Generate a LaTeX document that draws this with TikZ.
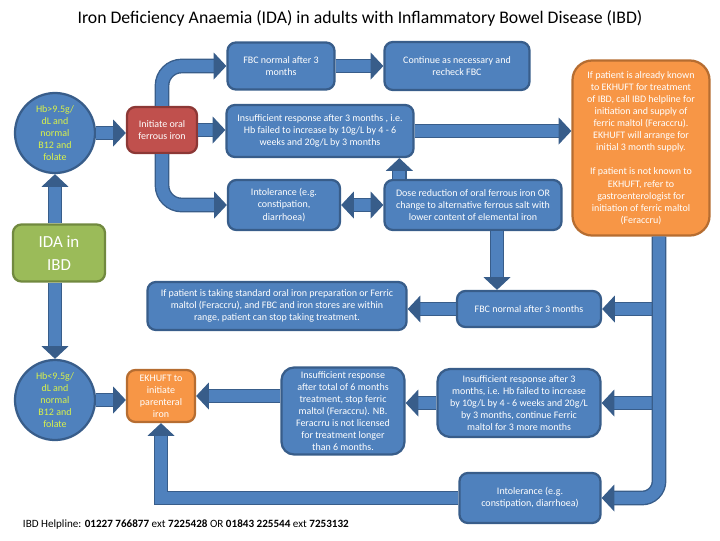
\documentclass[tikz,border=0pt]{standalone}
\usepackage{fontspec}
\setmainfont{Carlito}
\usepackage{xcolor}
\usetikzlibrary{arrows.meta,calc}
\definecolor{BoxBlue}{HTML}{4F81BD}
\definecolor{EdgeBlue}{HTML}{385D8A}
\definecolor{BoxRed}{HTML}{C0504D}
\definecolor{EdgeRed}{HTML}{8C3836}
\definecolor{BoxOrange}{HTML}{F79646}
\definecolor{EdgeOrange}{HTML}{B66D31}
\definecolor{BoxGreen}{HTML}{9BBB59}
\definecolor{EdgeGreen}{HTML}{71893F}
\definecolor{TextLime}{HTML}{D9F24A}

\begin{document}
\begin{tikzpicture}[
	x=0.025cm, y=-0.025cm,
	% box styles
	blue box/.style={
		rectangle,
		rounded corners=6pt,
		draw=EdgeBlue,
		fill=BoxBlue,
		text=white,
		line width=1.6pt,
		font=\fontsize{7.1}{8.6}\selectfont,
		align=center,
		inner sep=1pt
	},
	red box/.style={blue box, draw=EdgeRed, fill=BoxRed},
	orange box/.style={blue box, draw=EdgeOrange, fill=BoxOrange},
	green box/.style={blue box, draw=EdgeGreen, fill=BoxGreen,
		font=\fontsize{12}{16}\selectfont},
	hb node/.style={
		circle,
		draw=EdgeBlue,
		fill=BoxBlue,
		text=TextLime,
		line width=1.6pt,
		minimum size=2cm,
		inner sep=0pt,
		font=\fontsize{7.1}{8.6}\selectfont,
		align=center
	},
	% thick block arrows
	pipe/.style={
		draw=EdgeBlue,
		line width=1pt,
		double=BoxBlue,
		double distance=8.5pt,
		-{Triangle[width=19pt,length=9pt]}
	},
	pipe both/.style={pipe, {Triangle[width=19pt,length=9pt]}-{Triangle[width=19pt,length=9pt]}}
	]
	
	\useasboundingbox (0,0) rectangle (720,540);
	
	% ================= TITLE =================
	\node[font=\fontsize{12.6}{15}\selectfont] (title) at (360,18)
		{Iron Deficiency Anaemia (IDA) in adults with Inflammatory Bowel Disease (IBD)};
	
	% ================= NODES =================
	\node[hb node] (hbA) at (55,133) {Hb>9.5g/\\dL and\\normal\\B12 and\\folate};
	\node[green box, minimum width=2.3cm, minimum height=1.425cm] (ida) at (59,253) {IDA in\\IBD};
	\node[hb node] (hbB) at (55,400) {Hb<9.5g/\\dL and\\normal\\B12 and\\folate};
	
	\node[red box, minimum width=1.75cm, minimum height=1.15cm] (oral) at (162,130) {Initiate oral\\ferrous iron};
	
	\node[blue box, minimum width=2.675cm, minimum height=1.175cm] (fbc1) at (281,66) {FBC normal after 3\\months};
	\node[blue box, minimum width=3.625cm, minimum height=1.2cm] (cont) at (457,66) {Continue as necessary and\\recheck FBC};
	\node[blue box, minimum width=4.675cm, minimum height=1.3cm] (insuf1) at (320,131)
		{Insufficient response after 3 months , i.e.\\Hb failed to increase by 10g/L by 4 - 6\\weeks and 20g/L by 3 months};
	\node[blue box, minimum width=2.8cm, minimum height=1.25cm] (intol1) at (284,205) {Intolerance (e.g.\\constipation,\\diarrhoea)};
	\node[blue box, minimum width=4.425cm, minimum height=1.25cm] (dose) at (473,205)
		{Dose reduction of oral ferrous iron OR\\change to alternative ferrous salt with\\lower content of elemental iron};
	
	\node[orange box, rounded corners=14pt, minimum width=3.425cm, minimum height=4.375cm] (known) at (641,148)
		{If patient is already known\\to EKHUFT for treatment\\of IBD, call IBD helpline for\\initiation and supply of\\ferric maltol (Feraccru).\\EKHUFT will arrange for\\initial 3 month supply.\\[8.6pt]
		If patient is not known to\\EKHUFT, refer to\\gastroenterologist for\\initiation of ferric maltol\\(Feraccru)};
	
	\node[blue box, minimum width=6.475cm, minimum height=1.2cm] (stop) at (277,306)
		{If patient is taking standard oral iron preparation or Ferric\\maltol (Feraccru), and FBC and iron stores are within\\range, patient can stop taking treatment.};
	\node[blue box, minimum width=3.6cm, minimum height=0.9cm] (fbc2) at (529,309) {FBC normal after 3 months};
	
	\node[orange box, minimum width=1.7cm, minimum height=1.3cm] (ekh) at (161,396) {EKHUFT to\\initiate\\parenteral\\iron};
	\node[blue box, rounded corners=9pt, minimum width=3.075cm, minimum height=2.175cm] (insuf6) at (343,411)
		{Insufficient response\\after total of 6 months\\treatment, stop ferric\\maltol (Feraccru). NB.\\Feracrru is not licensed\\for treatment longer\\than 6 months.};
	\node[blue box, rounded corners=9pt, minimum width=4.075cm, minimum height=1.7cm] (insuf3b) at (519,403)
		{Insufficient response after 3\\months, i.e. Hb failed to increase\\by 10g/L by 4 - 6 weeks and 20g/L\\by 3 months, continue Ferric\\maltol for 3 more months};
	\node[blue box, minimum width=3.525cm, minimum height=1.25cm] (intol2) at (530,498) {Intolerance (e.g.\\constipation, diarrhoea)};
	
	\node[anchor=west, font=\fontsize{7.9}{9}\selectfont] (help) at (18,525)
		{IBD Helpline: \textbf{01227 766877} ext \textbf{7225428} OR \textbf{01843 225544} ext \textbf{7253132}};
	
	% ================= ARROWS =================
	\coordinate (down) at ([xshift=0.45cm]known.south);
	\coordinate (mid1) at (down |- fbc2.east);
	\coordinate (mid2) at (down |- insuf3b.east);
	
	\draw[pipe] (hbA.east) -- (hbA.east -| oral.west);
	\draw[pipe, rounded corners=14pt] (oral.north) |- (fbc1.west);
	\draw[pipe] (oral.east) -- (oral.east -| insuf1.west);
	\draw[pipe, rounded corners=14pt] (oral.south) |- (intol1.west);
	\draw[pipe] (fbc1) -- (cont);
	\draw[pipe] (insuf1.east) -- (insuf1.east -| known.west);
	\draw[pipe both] (intol1) -- (dose);
	\draw[pipe] ([xshift=0.4cm]dose.north west) -- ([xshift=0.4cm]dose.north west |- insuf1.south);
	\draw[pipe] ([xshift=0.6cm]dose.south) -- ([xshift=0.6cm]dose.south |- fbc2.north);
	
	\draw[pipe] (mid1) -- (fbc2.east);
	\draw[pipe] (mid2) -- (insuf3b.east);
	\draw[pipe, rounded corners=12pt] (down) |- (intol2.east);
	
	\draw[pipe] (fbc2.west) -- (fbc2.west -| stop.east);
	\draw[pipe] (insuf3b.west) -- (insuf3b.west -| insuf6.east);
	\draw[pipe] (insuf6.west |- ekh.east) -- (ekh.east);
	\draw[pipe] (intol2.west) -| (ekh.south);
	\draw[pipe] (hbB.east) -- (ekh.west |- hbB.east);
	
	\draw[pipe] (ida.north -| hbA.south) -- (hbA.south);
	\draw[pipe] (ida.south -| hbB.north) -- (hbB.north);
	
\end{tikzpicture}
\end{document}
